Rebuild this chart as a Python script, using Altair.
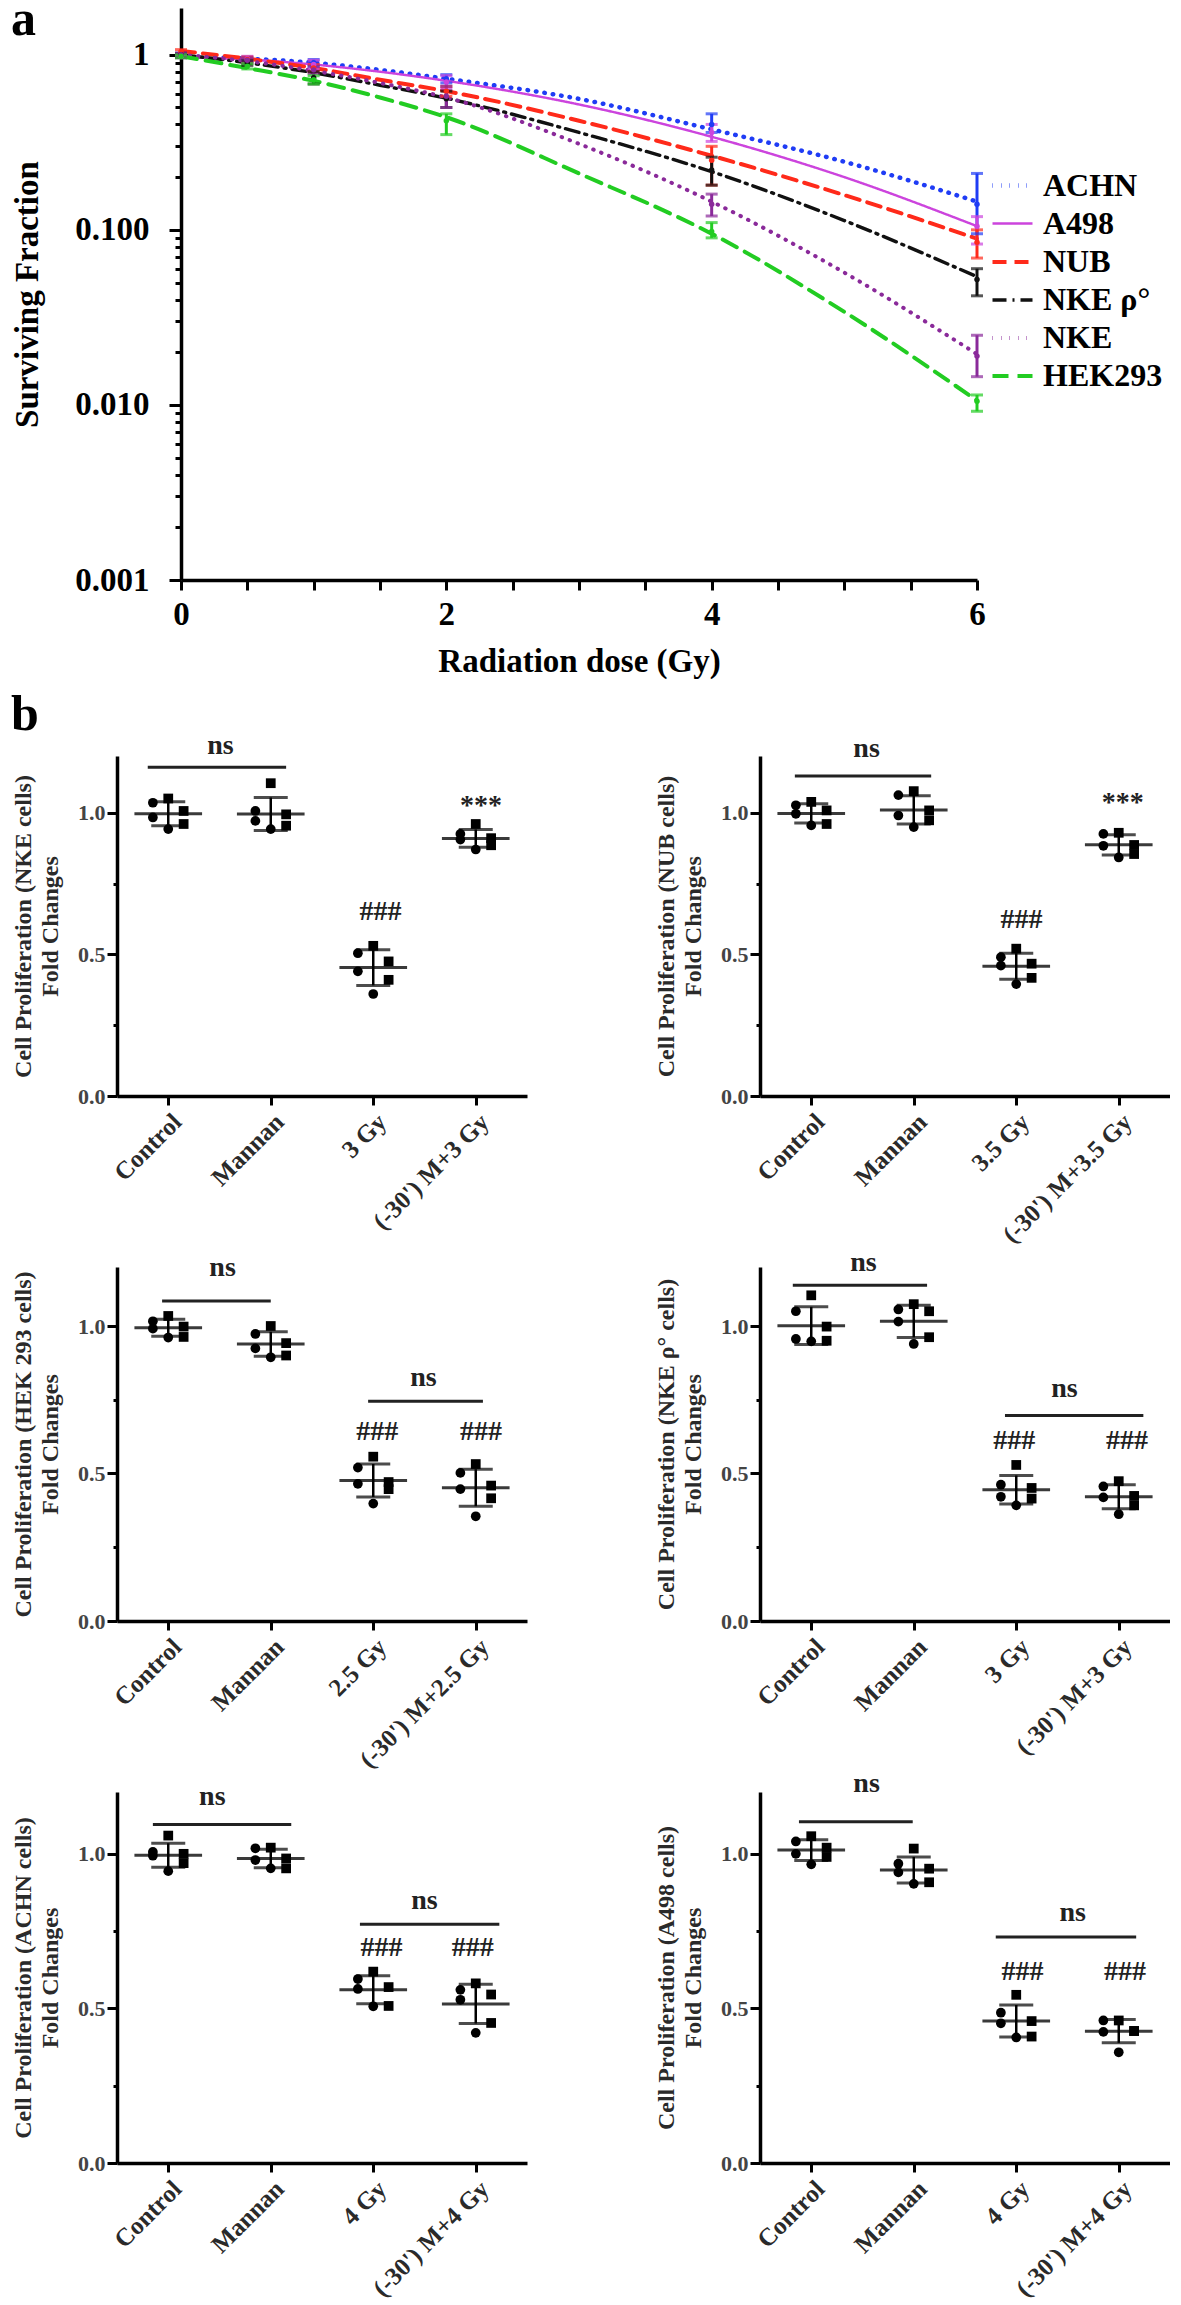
import json
import altair as alt
import pandas as pd

FONT = "Liberation Serif"

# ---------------- panel a : survival curves ----------------
SERIES = ["ACHN", "A498", "NUB", "NKE ρ°", "NKE", "HEK293"]
COLORS = ["#1f3cf5", "#cc44dd", "#ff2a1a", "#111111", "#8a2a9a", "#22cc22"]
DASHES = [[0.5, 8], [1, 0], [14, 8], [14, 6, 2, 6], [0.5, 8], [16, 9]]
WIDTHS = [4.5, 2.4, 4, 3.4, 4, 4]

FIT_DOSE = [0, 0.5, 1, 1.5, 2, 3, 4, 5, 6]
FIT_ACHN = [0.98, 0.95, 0.90, 0.82, 0.73, 0.56, 0.375, 0.245, 0.145]
FIT_A498 = [0.97, 0.94, 0.88, 0.80, 0.71, 0.52, 0.34, 0.20, 0.105]
FIT_NUB = [1.05, 0.95, 0.84, 0.72, 0.62, 0.42, 0.265, 0.158, 0.089]
FIT_NKEP = [1.0, 0.90, 0.79, 0.67, 0.565, 0.36, 0.215, 0.113, 0.054]
FIT_NKE = [1.0, 0.92, 0.81, 0.69, 0.57, 0.31, 0.145, 0.057, 0.0195]
FIT_HEK = [0.98, 0.84, 0.71, 0.57, 0.44, 0.21, 0.095, 0.034, 0.0106]

PT_DOSE = [0, 0.5, 1, 2, 4, 6]
ACHN_MEAN = [1.0, 0.94, 0.90, 0.73, 0.40, 0.14]
ACHN_LO = [0.97, 0.91, 0.86, 0.69, 0.36, 0.095]
ACHN_HI = [1.02, 0.97, 0.94, 0.77, 0.46, 0.21]
A498_MEAN = [0.98, 0.95, 0.88, 0.70, 0.36, 0.105]
A498_LO = [0.96, 0.92, 0.83, 0.64, 0.32, 0.083]
A498_HI = [1.0, 0.98, 0.93, 0.76, 0.40, 0.119]
NUB_MEAN = [1.04, 0.94, 0.84, 0.62, 0.25, 0.085]
NUB_LO = [1.0, 0.90, 0.80, 0.58, 0.18, 0.069]
NUB_HI = [1.07, 0.97, 0.88, 0.66, 0.30, 0.10]
NKEP_MEAN = [1.0, 0.90, 0.74, 0.56, 0.22, 0.052]
NKEP_LO = [0.97, 0.87, 0.68, 0.50, 0.18, 0.042]
NKEP_HI = [1.02, 0.93, 0.80, 0.62, 0.26, 0.060]
NKE_MEAN = [1.0, 0.93, 0.82, 0.58, 0.14, 0.019]
NKE_LO = [0.97, 0.90, 0.78, 0.50, 0.12, 0.0145]
NKE_HI = [1.02, 0.96, 0.86, 0.66, 0.16, 0.025]
HEK_MEAN = [0.98, 0.86, 0.72, 0.42, 0.098, 0.0105]
HEK_LO = [0.96, 0.83, 0.68, 0.35, 0.09, 0.0092]
HEK_HI = [1.0, 0.89, 0.76, 0.46, 0.11, 0.0114]

DOSE_TICKS = [0, 0.5, 1, 1.5, 2, 2.5, 3, 3.5, 4, 4.5, 5, 5.5, 6]
SF_TICKS = [0.001, 0.002, 0.003, 0.004, 0.005, 0.006, 0.007, 0.008, 0.009,
            0.01, 0.02, 0.03, 0.04, 0.05, 0.06, 0.07, 0.08, 0.09,
            0.1, 0.2, 0.3, 0.4, 0.5, 0.6, 0.7, 0.8, 0.9, 1]

fits = [FIT_ACHN, FIT_A498, FIT_NUB, FIT_NKEP, FIT_NKE, FIT_HEK]
means = [ACHN_MEAN, A498_MEAN, NUB_MEAN, NKEP_MEAN, NKE_MEAN, HEK_MEAN]
los = [ACHN_LO, A498_LO, NUB_LO, NKEP_LO, NKE_LO, HEK_LO]
his = [ACHN_HI, A498_HI, NUB_HI, NKEP_HI, NKE_HI, HEK_HI]

fit_rows, pt_rows = [], []
for s, f in zip(SERIES, fits):
    for d, v in zip(FIT_DOSE, f):
        fit_rows.append({"series": s, "dose": d, "sf": v})
for s, m, lo, hi in zip(SERIES, means, los, his):
    for d, a, b, c in zip(PT_DOSE, m, lo, hi):
        pt_rows.append({"series": s, "dose": d, "mean": a, "lo": b, "hi": c})
fit_df = pd.DataFrame(fit_rows)
pt_df = pd.DataFrame(pt_rows)

MAJOR_TEST = "datum.value == 0.001 || datum.value == 0.01 || datum.value == 0.1 || datum.value == 1"

x_axis_a = alt.Axis(values=DOSE_TICKS, labelExpr="datum.value % 2 == 0 ? format(datum.value, 'd') : ''",
                    title="Radiation dose (Gy)", grid=False, labelFont=FONT, labelFontSize=33,
                    labelFontWeight="bold", labelColor="black", titleFont=FONT, titleFontSize=33,
                    titleFontWeight="bold", titleColor="black", tickSize=10, tickWidth=3,
                    tickColor="black", domainColor="black", domainWidth=3.5, labelPadding=8,
                    titlePadding=14, labelOverlap=False, labelFlush=False)
y_axis_a = alt.Axis(values=SF_TICKS,
                    labelExpr="datum.value == 1 ? '1' : ((" + MAJOR_TEST + ") ? format(datum.value, '.3f') : '')",
                    title="Surviving Fraction", grid=False, labelFont=FONT, labelFontSize=33,
                    labelFontWeight="bold", labelColor="black", titleFont=FONT, titleFontSize=33,
                    titleFontWeight="bold", titleColor="black",
                    tickSize={"condition": {"test": MAJOR_TEST, "value": 12}, "value": 6},
                    tickWidth=3, tickColor="black", domainColor="black", domainWidth=3.5,
                    labelPadding=20, titlePadding=30, labelOverlap=False, labelFlush=False)

xs_a = alt.Scale(domain=[0, 6], nice=False, zero=False)
ys_a = alt.Scale(type="log", domain=[0.001, 1.85], nice=False)
cscale = alt.Scale(domain=SERIES, range=COLORS)

LEG = alt.Legend(title=None, orient="none", legendX=873, legendY=155, labelFont=FONT,
                 labelFontSize=32, labelFontWeight="bold", labelColor="black",
                 symbolSize=1600, symbolStrokeWidth=4, rowPadding=0, labelOffset=8,
                 symbolType="stroke")


def XA(f):
    return alt.X(f, type="quantitative", scale=xs_a, axis=x_axis_a)


def YA(f):
    return alt.Y(f, type="quantitative", scale=ys_a, axis=y_axis_a)


lines = alt.Chart(fit_df).mark_line(interpolate="monotone", strokeCap="round").encode(
    x=XA("dose"), y=YA("sf"),
    color=alt.Color("series:N", scale=cscale, sort=SERIES, legend=LEG),
    strokeDash=alt.StrokeDash("series:N", scale=alt.Scale(domain=SERIES, range=DASHES), sort=SERIES, legend=LEG),
    strokeWidth=alt.StrokeWidth("series:N", scale=alt.Scale(type="ordinal", domain=SERIES, range=WIDTHS), legend=None),
)
err = alt.Chart(pt_df).mark_rule(strokeWidth=3).encode(
    x=XA("dose"), y=YA("lo"), y2="hi:Q",
    color=alt.Color("series:N", scale=cscale, legend=None),
)
cap_lo = alt.Chart(pt_df).mark_tick(orient="horizontal", size=12, thickness=3).encode(
    x=XA("dose"), y=YA("lo"), color=alt.Color("series:N", scale=cscale, legend=None),
)
cap_hi = alt.Chart(pt_df).mark_tick(orient="horizontal", size=12, thickness=3).encode(
    x=XA("dose"), y=YA("hi"), color=alt.Color("series:N", scale=cscale, legend=None),
)
pts = alt.Chart(pt_df).mark_point(filled=True, size=30, opacity=1).encode(
    x=XA("dose"), y=YA("mean"), color=alt.Color("series:N", scale=cscale, legend=None),
)
label_a = alt.Chart(pd.DataFrame({"t": ["a"]})).mark_text(
    font=FONT, fontSize=50, fontWeight="bold", color="black", align="left", baseline="alphabetic"
).encode(text="t:N", x=alt.value(-170), y=alt.value(27))

panel_a = alt.layer(lines, err, cap_lo, cap_hi, pts, label_a).properties(width=796, height=572)
spacer = alt.Chart(pd.DataFrame({"s": [0]})).mark_point(opacity=0).properties(width=4, height=10)
row_a = alt.hconcat(spacer, panel_a, spacing=60, bounds="flush")

# ---------------- panel b : proliferation dot plots ----------------
NKE_CATS = ["Control", "Mannan", "3 Gy", "(-30') M+3 Gy"]
NKE_DOTS = [[1.05, 1.035, 1.006, 0.983, 0.96, 0.942],
            [1.104, 1.006, 0.994, 0.971, 0.954, 0.942],
            [0.53, 0.504, 0.475, 0.44, 0.41, 0.36],
            [0.96, 0.925, 0.91, 0.905, 0.885, 0.87]]
NKE_NS = [(-0.2, 1.15, 1.16, 0.51, 1.235)]
NKE_MARKS = [(2.07, 0.65, "###"), (3.05, 1.025, "***")]

NUB_CATS = ["Control", "Mannan", "3.5 Gy", "(-30') M+3.5 Gy"]
NUB_DOTS = [[1.038, 1.026, 1.008, 0.996, 0.96, 0.955],
            [1.076, 1.062, 1.008, 0.99, 0.973, 0.949],
            [0.52, 0.49, 0.467, 0.46, 0.417, 0.395],
            [0.929, 0.925, 0.886, 0.883, 0.854, 0.842]]
NUB_NS = [(-0.16, 1.17, 1.129, 0.54, 1.225)]
NUB_MARKS = [(2.05, 0.621, "###"), (3.04, 1.035, "***")]

HEK_CATS = ["Control", "Mannan", "2.5 Gy", "(-30') M+2.5 Gy"]
HEK_DOTS = [[1.034, 1.016, 0.998, 0.991, 0.963, 0.961],
            [1.0, 0.973, 0.942, 0.924, 0.9, 0.894],
            [0.557, 0.52, 0.471, 0.465, 0.447, 0.398],
            [0.532, 0.502, 0.459, 0.447, 0.416, 0.355]]
HEK_NS = [(-0.06, 1.0, 1.085, 0.53, 1.195), (1.95, 3.07, 0.745, 2.49, 0.825)]
HEK_MARKS = [(2.04, 0.642, "###"), (3.05, 0.642, "###")]

NKEP_CATS = ["Control", "Mannan", "3 Gy", "(-30') M+3 Gy"]
NKEP_DOTS = [[1.104, 1.05, 0.998, 0.956, 0.95, 0.948],
             [1.074, 1.056, 1.05, 1.015, 0.962, 0.939],
             [0.529, 0.462, 0.451, 0.421, 0.415, 0.392],
             [0.474, 0.456, 0.424, 0.419, 0.392, 0.362]]
NKEP_NS = [(-0.18, 1.13, 1.138, 0.51, 1.215), (1.89, 3.24, 0.697, 2.47, 0.785)]
NKEP_MARKS = [(1.98, 0.609, "###"), (3.08, 0.609, "###")]

ACHN_CATS = ["Control", "Mannan", "4 Gy", "(-30') M+4 Gy"]
ACHN_DOTS = [[1.059, 1.006, 1.0, 0.994, 0.97, 0.944],
             [1.02, 1.018, 0.985, 0.98, 0.953, 0.953],
             [0.619, 0.595, 0.569, 0.563, 0.508, 0.507],
             [0.581, 0.56, 0.545, 0.528, 0.453, 0.421]]
ACHN_NS = [(-0.15, 1.2, 1.095, 0.43, 1.185), (1.87, 3.23, 0.772, 2.5, 0.848)]
ACHN_MARKS = [(2.08, 0.694, "###"), (2.97, 0.694, "###")]

A498_CATS = ["Control", "Mannan", "4 Gy", "(-30') M+4 Gy"]
A498_DOTS = [[1.057, 1.04, 1.02, 1.0, 0.99, 0.966],
             [1.017, 0.968, 0.952, 0.94, 0.908, 0.903],
             [0.544, 0.486, 0.459, 0.452, 0.409, 0.406],
             [0.461, 0.461, 0.427, 0.424, 0.427, 0.358]]
A498_NS = [(-0.12, 0.99, 1.104, 0.54, 1.225), (1.8, 3.17, 0.731, 2.55, 0.808)]
A498_MARKS = [(2.06, 0.617, "###"), (3.06, 0.617, "###")]

JIT = [0.0, -0.15, 0.15, -0.15, 0.15, 0.0]
KIND = ["square", "circle", "square", "circle", "square", "circle"]

MINOR_B = "datum.value == 0.25 || datum.value == 0.75"


def dot_panel(cats, cell, dots, ns_list, marks, width, height, letter=None):
    expr = json.dumps(cats, ensure_ascii=False) + "[datum.value]"
    xs = alt.Scale(domain=[-0.5, 3.5], nice=False, zero=False)
    ys = alt.Scale(domain=[0, 1.2], nice=False, zero=True)
    xax = alt.Axis(values=[0, 1, 2, 3], labelExpr=expr, labelAngle=-45, title=None, grid=False,
                   labelFont=FONT, labelFontSize=25, labelFontWeight="bold", labelColor="#2a2a2a",
                   tickSize=9, tickWidth=3, tickColor="black", domainColor="black", domainWidth=3.5,
                   labelOverlap=False, labelFlush=False, labelPadding=4)
    yax = alt.Axis(values=[0, 0.25, 0.5, 0.75, 1.0],
                   labelExpr="(" + MINOR_B + ") ? '' : format(datum.value, '.1f')",
                   title=["Cell Proliferation (" + cell + ")", "Fold Changes"], grid=False,
                   labelFont=FONT, labelFontSize=22, labelFontWeight="bold", labelColor="#444",
                   titleFont=FONT, titleFontSize=24, titleFontWeight="bold", titleColor="#2a2a2a",
                   titleLineHeight=27, titlePadding=15,
                   tickSize={"condition": {"test": MINOR_B, "value": 4}, "value": 10},
                   tickWidth=3, tickColor="black", domainColor="black", domainWidth=3.5,
                   labelPadding=2, labelOverlap=False, labelFlush=False)

    def X(f):
        return alt.X(f, type="quantitative", scale=xs, axis=xax)

    def Y(f):
        return alt.Y(f, type="quantitative", scale=ys, axis=yax)

    rows = []
    for g, vals in enumerate(dots):
        for i, v in enumerate(vals):
            rows.append({"grp": g, "val": v, "jit": JIT[i], "kind": KIND[i]})
    ddf = pd.DataFrame(rows)
    sdf = ddf.groupby("grp")["val"].agg(["mean", "std"]).reset_index()
    sdf["lo"] = sdf["mean"] - sdf["std"]
    sdf["hi"] = sdf["mean"] + sdf["std"]
    nsb = pd.DataFrame([{"x1": a, "x2": b, "y": c} for a, b, c, _, _ in ns_list])
    txt = pd.DataFrame([{"x": tx, "y": ty, "t": "ns"} for _, _, _, tx, ty in ns_list]
                       + [{"x": a, "y": b, "t": t} for a, b, t in marks])

    pts_l = alt.Chart(ddf).transform_calculate(xj="datum.grp + datum.jit").mark_point(
        filled=True, size=95, opacity=1, color="black").encode(
        x=X("xj"), y=Y("val"),
        shape=alt.Shape("kind:N", scale=alt.Scale(domain=["square", "circle"], range=["square", "circle"]), legend=None),
    )
    mean_l = alt.Chart(sdf).transform_calculate(a="datum.grp - 0.33", b="datum.grp + 0.33").mark_rule(
        color="#3a3a3a", strokeWidth=3).encode(x=X("a"), x2="b:Q", y=Y("mean"))
    sd_l = alt.Chart(sdf).mark_rule(color="black", strokeWidth=2.5).encode(x=X("grp"), y=Y("lo"), y2="hi:Q")
    caplo = alt.Chart(sdf).mark_tick(orient="horizontal", size=34, thickness=3, color="black").encode(
        x=X("grp"), y=Y("lo"))
    caphi = alt.Chart(sdf).mark_tick(orient="horizontal", size=34, thickness=3, color="black").encode(
        x=X("grp"), y=Y("hi"))
    bar_l = alt.Chart(nsb).mark_rule(color="#222", strokeWidth=3).encode(x=X("x1"), x2="x2:Q", y=Y("y"))
    txt_l = alt.Chart(txt).mark_text(font=FONT, fontSize=28, fontWeight="bold", color="#222",
                                     baseline="middle", align="center").encode(
        x=X("x"), y=Y("y"), text="t:N")
    layers = [mean_l, sd_l, caplo, caphi, pts_l, bar_l, txt_l]
    if letter:
        layers.append(alt.Chart(pd.DataFrame({"t": [letter]})).mark_text(
            font=FONT, fontSize=50, fontWeight="bold", color="black", align="left",
            baseline="alphabetic").encode(text="t:N", x=alt.value(-106), y=alt.value(-26)))
    return alt.layer(*layers).properties(width=width, height=height)


W = 410
grid = alt.concat(
    dot_panel(NKE_CATS, "NKE cells", NKE_DOTS, NKE_NS, NKE_MARKS, W, 340, letter="b"),
    dot_panel(NUB_CATS, "NUB cells", NUB_DOTS, NUB_NS, NUB_MARKS, W, 340),
    dot_panel(HEK_CATS, "HEK 293 cells", HEK_DOTS, HEK_NS, HEK_MARKS, W, 354),
    dot_panel(NKEP_CATS, "NKE ρ° cells", NKEP_DOTS, NKEP_NS, NKEP_MARKS, W, 354),
    dot_panel(ACHN_CATS, "ACHN cells", ACHN_DOTS, ACHN_NS, ACHN_MARKS, W, 371),
    dot_panel(A498_CATS, "A498 cells", A498_DOTS, A498_NS, A498_MARKS, W, 371),
    columns=2, spacing={"row": 171, "column": 233}, bounds="flush",
)

chart = alt.vconcat(row_a, grid, spacing=12).properties(
    padding={"top": -13, "left": 3, "right": 0, "bottom": 0}, background="white"
).configure_view(stroke=None)

chart.save("out.html", embed_options={"renderer": "svg", "actions": False})
